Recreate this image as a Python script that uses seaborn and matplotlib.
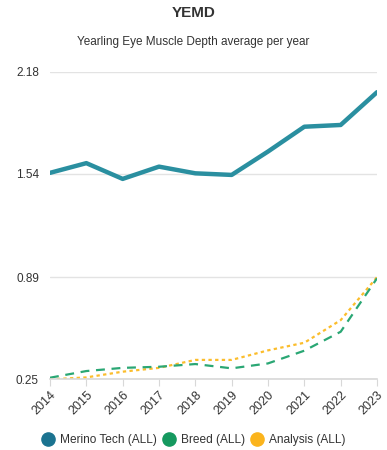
import matplotlib
matplotlib.use("Agg")
import matplotlib.pyplot as plt
import seaborn as sns
import pandas as pd
from matplotlib.lines import Line2D

years = [2014, 2015, 2016, 2017, 2018, 2019, 2020, 2021, 2022, 2023]
merino_tech = [1.546, 1.607, 1.508, 1.585, 1.543, 1.533, 1.68, 1.836, 1.847, 2.053]
breed = [0.258, 0.30, 0.32, 0.327, 0.344, 0.317, 0.348, 0.428, 0.547, 0.883]
analysis = [0.248, 0.26, 0.296, 0.32, 0.37, 0.37, 0.43, 0.478, 0.62, 0.89]
series_names = ["Merino Tech (ALL)", "Breed (ALL)", "Analysis (ALL)"]
yticks = [0.25, 0.89, 1.54, 2.18]

sns.set_style("white")
plt.rcParams['font.family'] = ['Liberation Sans', 'DejaVu Sans']

df = pd.DataFrame({
    "year": years * 3,
    "value": merino_tech + breed + analysis,
    "series": [series_names[0]] * 10 + [series_names[1]] * 10 + [series_names[2]] * 10,
})

fig = plt.figure(figsize=(3.87, 4.5), dpi=100)
ax = fig.add_axes([50/387, 71/450, 327/387, 307/450])

line_colors = {series_names[0]: "#2a8fa0", series_names[1]: "#2aa774", series_names[2]: "#fbbd2c"}
legend_colors = ["#1b7390", "#15995f", "#fbb41c"]
widths = {series_names[0]: 3.2, series_names[1]: 1.6, series_names[2]: 1.6}
styles = {series_names[0]: "-", series_names[1]: (0, (4, 3)), series_names[2]: (0, (1.5, 1.5))}

for name in [series_names[2], series_names[1], series_names[0]]:
    sub = df[df["series"] == name]
    sns.lineplot(data=sub, x="year", y="value", ax=ax, color=line_colors[name],
                 linewidth=widths[name], linestyle=styles[name], legend=False,
                 zorder=3 if name == series_names[0] else 2)

ax.set_xlim(2014, 2023)
ax.set_ylim(0.25, 2.18)
ax.set_yticks(yticks)
ax.set_yticklabels(["0.25", "0.89", "1.54", "2.18"])
ax.set_xticks(years)
ax.set_xticklabels([str(y) for y in years], rotation=45, ha="right", rotation_mode="anchor")
ax.yaxis.grid(True, color="#e3e3e3", linewidth=1)
ax.set_axisbelow(True)
for s in ["top", "right", "left"]:
    ax.spines[s].set_visible(False)
ax.spines["bottom"].set_color("#d8d8d8")
ax.spines["bottom"].set_linewidth(1.2)
ax.tick_params(axis="y", length=0, labelsize=8.5, labelcolor="#333333", pad=8)
ax.tick_params(axis="x", length=5, color="#d8d8d8", labelsize=9, labelcolor="#333333", pad=2, direction="out", bottom=True)
ax.set_xlabel("")
ax.set_ylabel("")

fig.text(0.5, 1 - 13/450, "YEMD", ha="center", va="center", fontsize=11, fontweight="heavy", color="#333333")
fig.text(0.5, 1 - 42/450, "Yearling Eye Muscle Depth average per year", ha="center", va="center", fontsize=8.5, color="#333333")

handles = [Line2D([0], [0], marker="o", linestyle="none", markersize=9.5, markerfacecolor=c, markeredgecolor=c)
           for c in legend_colors]
fig.legend(handles, series_names, loc="center", bbox_to_anchor=(0.5, 1 - 440/450), ncol=3, frameon=False,
           fontsize=8.6, handletextpad=0.4, handlelength=1.2, columnspacing=0.4, labelcolor="#333333")

fig.savefig("out.png", dpi=100)
